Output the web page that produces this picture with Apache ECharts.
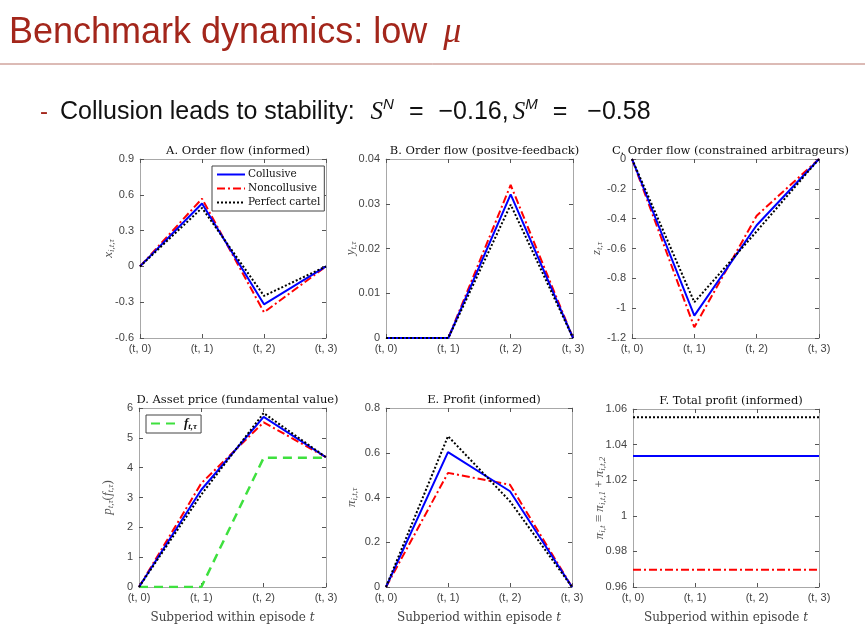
<!DOCTYPE html>
<html lang="en">
<head>
    <meta charset="UTF-8">
    <title>Benchmark dynamics: low mu</title>
    <script src="https://cdn.jsdelivr.net/npm/echarts@6/dist/echarts.min.js"></script>
    <style>
        html, body { margin: 0; padding: 0; background: #fff; }
        #main { width: 865px; height: 634px; }
    </style>
</head>
<body>
    <div id="main"></div>
    <script>
        // 横轴：每个 episode 内的子时期
        const periods = ["(t, 0)", "(t, 1)", "(t, 2)", "(t, 3)"];

        // A. informed order flow
        const flowInfCol = [0, 0.527, -0.318, 0];
        const flowInfNon = [0, 0.568, -0.385, 0];
        const flowInfCart = [0, 0.49, -0.247, 0];
        // B. positive-feedback order flow
        const flowPfCol = [0, 0, 0.0321, 0];
        const flowPfNon = [0, 0, 0.0342, 0];
        const flowPfCart = [0, 0, 0.0298, 0];
        // C. constrained arbitrageurs
        const flowArbCol = [0, -1.05, -0.444, 0];
        const flowArbNon = [0, -1.128, -0.38, 0];
        const flowArbCart = [0, -0.96, -0.485, 0];
        // D. asset price and fundamental value
        const priceCol = [0, 3.26, 5.7, 4.35];
        const priceNon = [0, 3.48, 5.52, 4.35];
        const priceCart = [0, 3.1, 5.83, 4.35];
        const fundamental = [0, 0, 4.33, 4.33];
        // E. informed profit
        const profitCol = [0, 0.603, 0.428, 0];
        const profitNon = [0, 0.51, 0.457, 0];
        const profitCart = [0, 0.674, 0.383, 0];
        // F. total informed profit
        const totalCol = [1.0336, 1.0336, 1.0336, 1.0336];
        const totalNon = [0.9697, 0.9697, 0.9697, 0.9697];
        const totalCart = [1.0553, 1.0553, 1.0553, 1.0553];

        // y 轴刻度范围
        const yRanges = [
            [-0.6, 0.9, 0.3],
            [0, 0.04, 0.01],
            [-1.2, 0, 0.2],
            [0, 6, 1],
            [0, 0.8, 0.2],
            [0.96, 1.06, 0.02]
        ];

        const panelTitles = [
            "A. Order flow (informed)",
            "B. Order flow (positve-feedback)",
            "C. Order flow (constrained arbitrageurs)",
            "D. Asset price (fundamental value)",
            "E. Profit (informed)",
            "F. Total profit (informed)"
        ];

        const yNames = [
            "{v|x}{s|i,t,τ}",
            "{v|y}{s|t,τ}",
            "{v|z}{s|t,τ}",
            "{v|p}{s|t,τ}{r|(}{v|f}{s|t,τ}{r|)}",
            "{v|π}{s|i,t,τ}",
            "{v|π}{s|i,t}{r| ≡ }{v|π}{s|i,t,1}{r| + }{v|π}{s|i,t,2}"
        ];
        const yNameGaps = [24, 28, 28, 24, 27, 26];

        const grids = [
            { left: 140, top: 159, width: 186, height: 179 },
            { left: 386, top: 159, width: 187, height: 179 },
            { left: 632, top: 159, width: 187, height: 179 },
            { left: 139, top: 408, width: 187, height: 179 },
            { left: 386, top: 408, width: 186, height: 179 },
            { left: 633, top: 409, width: 186, height: 178 }
        ];

        const serif = "DejaVu Serif";
        const mathSerif = "Liberation Serif";
        const sans = "Liberation Sans";
        const axisGray = "#a8a8a8";

        const mathRich = {
            v: { fontFamily: mathSerif, fontStyle: "italic", fontSize: 13, color: "#555", lineHeight: 14 },
            s: { fontFamily: mathSerif, fontStyle: "italic", fontSize: 9, color: "#555", lineHeight: 7, verticalAlign: "bottom" },
            r: { fontFamily: mathSerif, fontSize: 13, color: "#555", lineHeight: 14 }
        };

        const solid = { color: "#0000ff", width: 2, type: "solid" };
        const dashDot = { color: "#ff0000", width: 2, type: [8, 3, 2, 3] };
        const dotted = { color: "#000000", width: 2, type: [2, 2] };

        const panelData = [
            [flowInfCol, flowInfNon, flowInfCart],
            [flowPfCol, flowPfNon, flowPfCart],
            [flowArbCol, flowArbNon, flowArbCart],
            [priceCol, priceNon, priceCart],
            [profitCol, profitNon, profitCart],
            [totalCol, totalNon, totalCart]
        ];

        const xAxes = [];
        const yAxes = [];
        const series = [];
        const titles = [];

        grids.forEach(function (g, i) {
            const bottomRow = i >= 3;
            xAxes.push({
                gridIndex: i,
                type: "category",
                data: periods,
                boundaryGap: false,
                position: "bottom",
                axisLine: { onZero: false, lineStyle: { color: axisGray } },
                axisTick: { inside: true, length: 4, lineStyle: { color: "#555" } },
                axisLabel: { fontFamily: sans, fontSize: 11, color: "#444", margin: 5 },
                splitLine: { show: false },
                name: bottomRow ? "Subperiod within episode {v|t}" : "",
                nameLocation: "middle",
                nameGap: 25,
                nameMoveOverlap: false,
                nameTextStyle: {
                    fontFamily: serif, fontSize: 12, color: "#444",
                    rich: { v: { fontFamily: serif, fontStyle: "italic", fontSize: 12, color: "#444" } }
                }
            });
            xAxes.push({
                gridIndex: i,
                type: "category",
                data: periods,
                boundaryGap: false,
                position: "top",
                axisLine: { onZero: false, lineStyle: { color: axisGray } },
                axisTick: { inside: true, length: 4, lineStyle: { color: "#555" } },
                axisLabel: { show: false },
                splitLine: { show: false }
            });
            const r = yRanges[i];
            yAxes.push({
                gridIndex: i,
                type: "value",
                min: r[0],
                max: r[1],
                interval: r[2],
                position: "left",
                axisLine: { show: true, onZero: false, lineStyle: { color: axisGray } },
                axisTick: { show: true, inside: true, length: 4, lineStyle: { color: "#555" } },
                axisLabel: { fontFamily: sans, fontSize: 11, color: "#444", margin: 6 },
                splitLine: { show: false },
                name: yNames[i],
                nameLocation: "middle",
                nameRotate: 90,
                nameGap: yNameGaps[i],
                nameMoveOverlap: false,
                nameTextStyle: { rich: mathRich }
            });
            yAxes.push({
                gridIndex: i,
                type: "value",
                min: r[0],
                max: r[1],
                interval: r[2],
                position: "right",
                axisLine: { show: true, onZero: false, lineStyle: { color: axisGray } },
                axisTick: { show: true, inside: true, length: 4, lineStyle: { color: "#555" } },
                axisLabel: { show: false },
                splitLine: { show: false }
            });

            titles.push({
                text: panelTitles[i],
                left: g.left + g.width / 2,
                top: g.top - 19,
                textAlign: "center",
                textStyle: { fontFamily: serif, fontSize: 11.5, fontWeight: "normal", color: "#111" }
            });

            const d = panelData[i];
            if (i === 3) {
                series.push({
                    name: "f",
                    type: "line",
                    xAxisIndex: 2 * i,
                    yAxisIndex: 2 * i,
                    data: fundamental,
                    symbol: "none",
                    lineStyle: { color: "#3ee03e", width: 2.5, type: [9, 6] },
                    itemStyle: { color: "#3ee03e" }
                });
            }
            const styles = [solid, dashDot, dotted];
            const names = ["Collusive", "Noncollusive", "Perfect cartel"];
            [1, 0, 2].forEach(function (k) {
                series.push({
                    name: names[k],
                    type: "line",
                    xAxisIndex: 2 * i,
                    yAxisIndex: 2 * i,
                    data: d[k],
                    symbol: "none",
                    lineStyle: styles[k],
                    itemStyle: { color: styles[k].color }
                });
            });
        });

        // 幻灯片标题 + 要点
        const red = "#a3261b";
        titles.push({
            text: "{a|Benchmark dynamics: low }{g| }{m|μ}",
            left: 4,
            top: 10,
            textStyle: {
                fontWeight: "normal",
                rich: {
                    a: { fontFamily: sans, fontWeight: "normal", fontSize: 36, color: red },
                    g: { width: 6, fontSize: 36 },
                    m: { fontFamily: mathSerif, fontStyle: "italic", fontWeight: "normal", fontSize: 36, color: red }
                }
            }
        });
        titles.push({
            text: "{d|-}{g0| }{t|Collusion leads to stability:}{g1| }{m|S}{sup|N}{g2| }{n|=}{g2| }{n|−0.16,}{g3| }{m|S}{sup|M}{g2| }{n|=}{g4| }{n|−0.58}",
            left: 35,
            top: 92,
            textStyle: {
                fontWeight: "normal",
                rich: {
                    d: { fontFamily: sans, fontWeight: "normal", fontSize: 24, color: red, lineHeight: 30 },
                    g0: { width: 12, fontSize: 24, lineHeight: 30 },
                    g1: { width: 16, fontSize: 24, lineHeight: 30 },
                    g2: { width: 15, fontSize: 24, lineHeight: 30 },
                    g3: { width: 4, fontSize: 24, lineHeight: 30 },
                    g4: { width: 20, fontSize: 24, lineHeight: 30 },
                    t: { fontFamily: sans, fontWeight: "normal", fontSize: 25, color: "#111", lineHeight: 30 },
                    n: { fontFamily: sans, fontWeight: "normal", fontSize: 25, color: "#111", lineHeight: 30 },
                    m: { fontFamily: mathSerif, fontStyle: "italic", fontWeight: "normal", fontSize: 25, color: "#111", lineHeight: 30 },
                    sup: { fontFamily: sans, fontStyle: "italic", fontWeight: "normal", fontSize: 15, color: "#111", lineHeight: 16, verticalAlign: "top" }
                }
            }
        });

        const myChart = echarts.init(document.getElementById("main"), null, { renderer: "canvas" });
        myChart.setOption({
            backgroundColor: "#fff",
            animation: false,
            title: titles,
            grid: grids.map(function (g) {
                return Object.assign({ show: false, outerBoundsMode: "none" }, g);
            }),
            xAxis: xAxes,
            yAxis: yAxes,
            legend: [
                {
                    data: ["Collusive", "Noncollusive", "Perfect cartel"],
                    orient: "vertical",
                    left: 212,
                    top: 166,
                    itemWidth: 28,
                    itemHeight: 11,
                    itemGap: 3,
                    padding: [3, 4, 3, 4],
                    borderColor: "#444",
                    borderWidth: 1,
                    backgroundColor: "#fff",
                    selectedMode: false,
                    itemStyle: { opacity: 0 },
                    textStyle: { fontFamily: serif, fontSize: 10.5, color: "#111", padding: [0, 0, 0, -2] }
                },
                {
                    data: ["f"],
                    left: 146,
                    top: 415,
                    itemWidth: 28,
                    itemHeight: 10,
                    padding: [2, 4, 2, 4],
                    borderColor: "#444",
                    borderWidth: 1,
                    backgroundColor: "#fff",
                    selectedMode: false,
                    itemStyle: { opacity: 0 },
                    formatter: function () { return "{v|f}{s|t,τ}"; },
                    textStyle: {
                        rich: {
                            v: { fontFamily: mathSerif, fontStyle: "italic", fontWeight: "bold", fontSize: 13, color: "#111", lineHeight: 15 },
                            s: { fontFamily: mathSerif, fontStyle: "italic", fontWeight: "bold", fontSize: 9, color: "#111", lineHeight: 8, verticalAlign: "bottom" }
                        }
                    }
                }
            ],
            graphic: [
                {
                    type: "line",
                    shape: { x1: 0, y1: 64, x2: 865, y2: 64 },
                    style: { stroke: "#b9776c", lineWidth: 1 }
                }
            ],
            series: series
        });
    </script>
</body>
</html>
